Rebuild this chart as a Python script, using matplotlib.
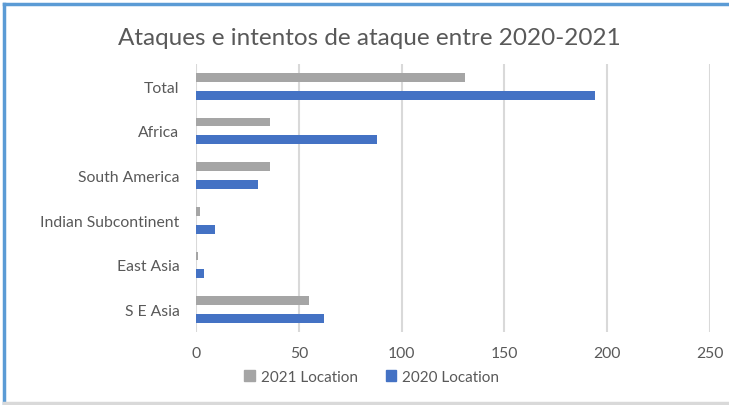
import numpy as np
import matplotlib
matplotlib.use("Agg")
import matplotlib.pyplot as plt
from matplotlib.lines import Line2D
from matplotlib.patches import Patch

# Dados (de baixo para cima)
regioes = ["S E Asia", "East Asia", "Indian Subcontinent", "South America", "Africa", "Total"]
loc_2021 = [55, 1, 2, 36, 36, 131]
loc_2020 = [62, 4, 9, 30, 88, 194]
xticks = [0, 50, 100, 150, 200, 250]

cinza = "#A5A5A5"
azul = "#4472C4"
texto = "#595959"

plt.rcParams["font.family"] = ["Lato", "DejaVu Sans"]

fig = plt.figure(figsize=(7.29, 4.06), dpi=100)
ax = fig.add_axes([0.269, 0.180, 0.705, 0.660])

y = np.arange(len(regioes))
ax.barh(y + 0.2, loc_2021, height=0.2, color=cinza, zorder=3)
ax.barh(y - 0.2, loc_2020, height=0.2, color=azul, zorder=3)

ax.set_xlim(0, 250)
ax.set_ylim(-0.5, len(regioes) - 0.5)
ax.set_xticks(xticks)
ax.set_yticks(y)
ax.set_yticklabels(regioes)
ax.tick_params(axis="both", length=0, labelsize=11.3, labelcolor=texto)
ax.tick_params(axis="y", pad=12)
ax.tick_params(axis="x", pad=10)
ax.grid(axis="x", color="#D9D9D9", linewidth=1.5, zorder=0)
for s in ax.spines.values():
    s.set_visible(False)

fig.text(0.507, 0.905, "Ataques e intentos de ataque entre 2020-2021",
         ha="center", va="center", fontsize=17.5, color=texto)

handles = [Patch(color=cinza), Patch(color=azul)]
fig.legend(handles, ["2021 Location", "2020 Location"], loc="center",
           bbox_to_anchor=(0.51, 0.07), ncol=2, frameon=False, fontsize=11,
           labelcolor=texto, handlelength=0.7, handleheight=0.7,
           handletextpad=0.4, columnspacing=1.8)

# Moldura
fig.add_artist(Line2D([0.005, 1.0], [0.988, 0.988], color="#5B9BD5", lw=2.5, transform=fig.transFigure))
fig.add_artist(Line2D([0.006, 0.006], [0.0, 0.988], color="#5B9BD5", lw=2.5, transform=fig.transFigure))
fig.add_artist(Line2D([0.006, 1.0], [0.006, 0.006], color="#D9D9D9", lw=2.5, transform=fig.transFigure))

fig.savefig("out.png", dpi=100)
